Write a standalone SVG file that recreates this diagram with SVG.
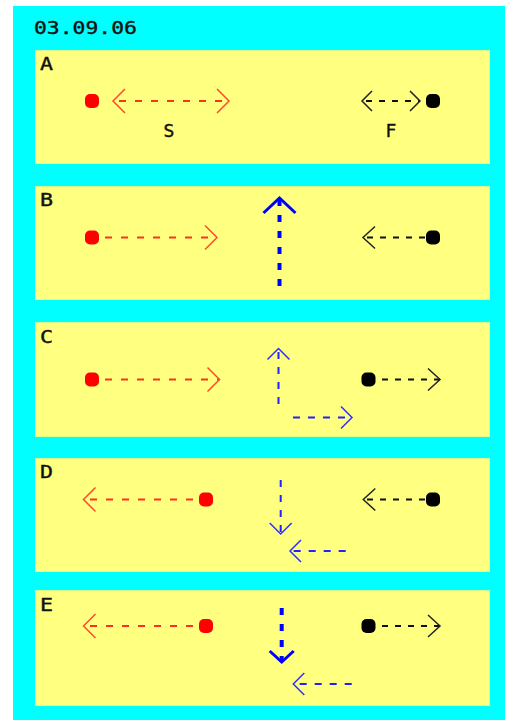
<svg xmlns="http://www.w3.org/2000/svg" width="505" height="720" viewBox="0 0 505 720">
<style>
.panel{fill:#FFFF80;stroke:#D6FF8C;stroke-width:1}
.lbl{font-family:"DejaVu Sans Mono","Liberation Mono",monospace;font-size:18px;fill:#111;stroke:#111;stroke-width:0.4}
.red{fill:none;stroke:#FF3020;stroke-width:2;stroke-dasharray:7 9}
.blk{fill:none;stroke:#111;stroke-width:2;stroke-dasharray:6 7}
.blu{fill:none;stroke:#2222FF;stroke-width:2;stroke-dasharray:7 8}
.bluT{fill:none;stroke:#0000FF;stroke-width:4;stroke-dasharray:7 9}
.dotR{fill:#FF0000}
.dotK{fill:#000}
</style>
<defs>
<marker id="mR" markerUnits="userSpaceOnUse" orient="auto-start-reverse" overflow="visible" markerWidth="1" markerHeight="1" refX="0" refY="0"><path d="M-12,-12 L0,0 L-12,12" fill="none" stroke="#FF4A30" stroke-width="1.5"/></marker>
<marker id="mK" markerUnits="userSpaceOnUse" orient="auto-start-reverse" overflow="visible" markerWidth="1" markerHeight="1" refX="0" refY="0"><path d="M-12,-11 L0,0 L-12,11" fill="none" stroke="#222" stroke-width="1.5"/></marker>
<marker id="mKs" markerUnits="userSpaceOnUse" orient="auto-start-reverse" overflow="visible" markerWidth="1" markerHeight="1" refX="0" refY="0"><path d="M-10,-10 L0,0 L-10,10" fill="none" stroke="#222" stroke-width="1.5"/></marker>
<marker id="mB" markerUnits="userSpaceOnUse" orient="auto" overflow="visible" markerWidth="1" markerHeight="1" refX="0" refY="0"><path d="M-11,-11 L0,0 L-11,11" fill="none" stroke="#3030FF" stroke-width="1.5"/></marker>
<marker id="mBT" markerUnits="userSpaceOnUse" orient="auto" overflow="visible" markerWidth="1" markerHeight="1" refX="0" refY="0"><path d="M-15,-16 L0,0 L-15,16" fill="none" stroke="#0000FF" stroke-width="3"/></marker>
<marker id="mBT2" markerUnits="userSpaceOnUse" orient="auto" overflow="visible" markerWidth="1" markerHeight="1" refX="0" refY="0"><path d="M-11,-12 L0,0 L-11,12" fill="none" stroke="#0000FF" stroke-width="3"/></marker>
</defs>
<rect x="0" y="0" width="505" height="720" fill="#FFFFFF"/>
<rect x="13" y="6" width="492" height="714" fill="#00FFFF"/>
<text class="lbl" x="34" y="34" font-size="19" textLength="103" lengthAdjust="spacingAndGlyphs">03.09.06</text>

<g id="panelA"><rect class="panel" x="35.5" y="50.5" width="454" height="113"/><text class="lbl" x="40" y="70" textLength="13" lengthAdjust="spacingAndGlyphs">A</text></g>
<g id="panelB"><rect class="panel" x="35.5" y="186.5" width="454" height="113"/><text class="lbl" x="40" y="206" textLength="13" lengthAdjust="spacingAndGlyphs">B</text></g>
<g id="panelC"><rect class="panel" x="35.5" y="322.5" width="454" height="114"/><text class="lbl" x="40" y="343" textLength="13" lengthAdjust="spacingAndGlyphs">C</text></g>
<g id="panelD"><rect class="panel" x="35.5" y="458.5" width="454" height="113"/><text class="lbl" x="40" y="478" textLength="13" lengthAdjust="spacingAndGlyphs">D</text></g>
<g id="panelE"><rect class="panel" x="35.5" y="590.5" width="454" height="115"/><text class="lbl" x="40" y="611" textLength="13" lengthAdjust="spacingAndGlyphs">E</text></g>

<g id="A-S"><rect class="dotR" x="85" y="94" width="14" height="14" rx="5"/><text class="lbl" x="169" y="137" text-anchor="middle">S</text></g>
<g id="A-F"><rect class="dotK" x="426" y="94" width="14" height="14" rx="5"/><text class="lbl" x="391" y="137" text-anchor="middle">F</text></g>
<g id="B-S"><rect class="dotR" x="85" y="230.5" width="14" height="14" rx="5"/></g>
<g id="B-F"><rect class="dotK" x="426" y="230.5" width="14" height="14" rx="5"/></g>
<g id="C-S"><rect class="dotR" x="85" y="372.5" width="14" height="14" rx="5"/></g>
<g id="C-F"><rect class="dotK" x="361.5" y="372.5" width="14" height="14" rx="5"/></g>
<g id="D-S"><rect class="dotR" x="199" y="492.5" width="14" height="14" rx="5"/></g>
<g id="D-F"><rect class="dotK" x="426" y="492.5" width="14" height="14" rx="5"/></g>
<g id="E-S"><rect class="dotR" x="199" y="619" width="14" height="14" rx="5"/></g>
<g id="E-F"><rect class="dotK" x="361.5" y="619" width="14" height="14" rx="5"/></g>

<g id="connectors">
<path class="red" d="M113,101 H229" stroke-dashoffset="-6" marker-start="url(#mR)" marker-end="url(#mR)"/>
<path class="blk" d="M362,101 H420" stroke-dashoffset="-4" marker-start="url(#mKs)" marker-end="url(#mKs)"/>

<path class="red" d="M105,237.5 H217" marker-end="url(#mR)"/>
<path class="bluT" d="M279.5,286 V198" marker-end="url(#mBT)"/>
<path class="blk" d="M425,237.5 H363" marker-end="url(#mK)"/>

<path class="red" d="M105,379.5 H219.5" marker-end="url(#mR)"/>
<path class="blu" d="M278.5,404 V348.5" marker-end="url(#mB)"/>
<path class="blu" d="M293,417.5 H352" marker-end="url(#mB)"/>
<path class="blk" d="M382,379.5 H440" marker-end="url(#mK)"/>

<path class="red" d="M193,499.5 H83.5" marker-end="url(#mR)"/>
<path class="blu" d="M280.7,480 V534" marker-end="url(#mB)"/>
<path class="blu" d="M345.7,551 H290" marker-end="url(#mB)"/>
<path class="blk" d="M425,499.5 H363.3" marker-end="url(#mK)"/>

<path class="red" d="M193,626 H83.5" marker-end="url(#mR)"/>
<path class="bluT" d="M281.7,608 V662" marker-end="url(#mBT2)"/>
<path class="blu" d="M351.7,684 H293.3" marker-end="url(#mB)"/>
<path class="blk" d="M382,626 H440" marker-end="url(#mK)"/>
</g>
</svg>
